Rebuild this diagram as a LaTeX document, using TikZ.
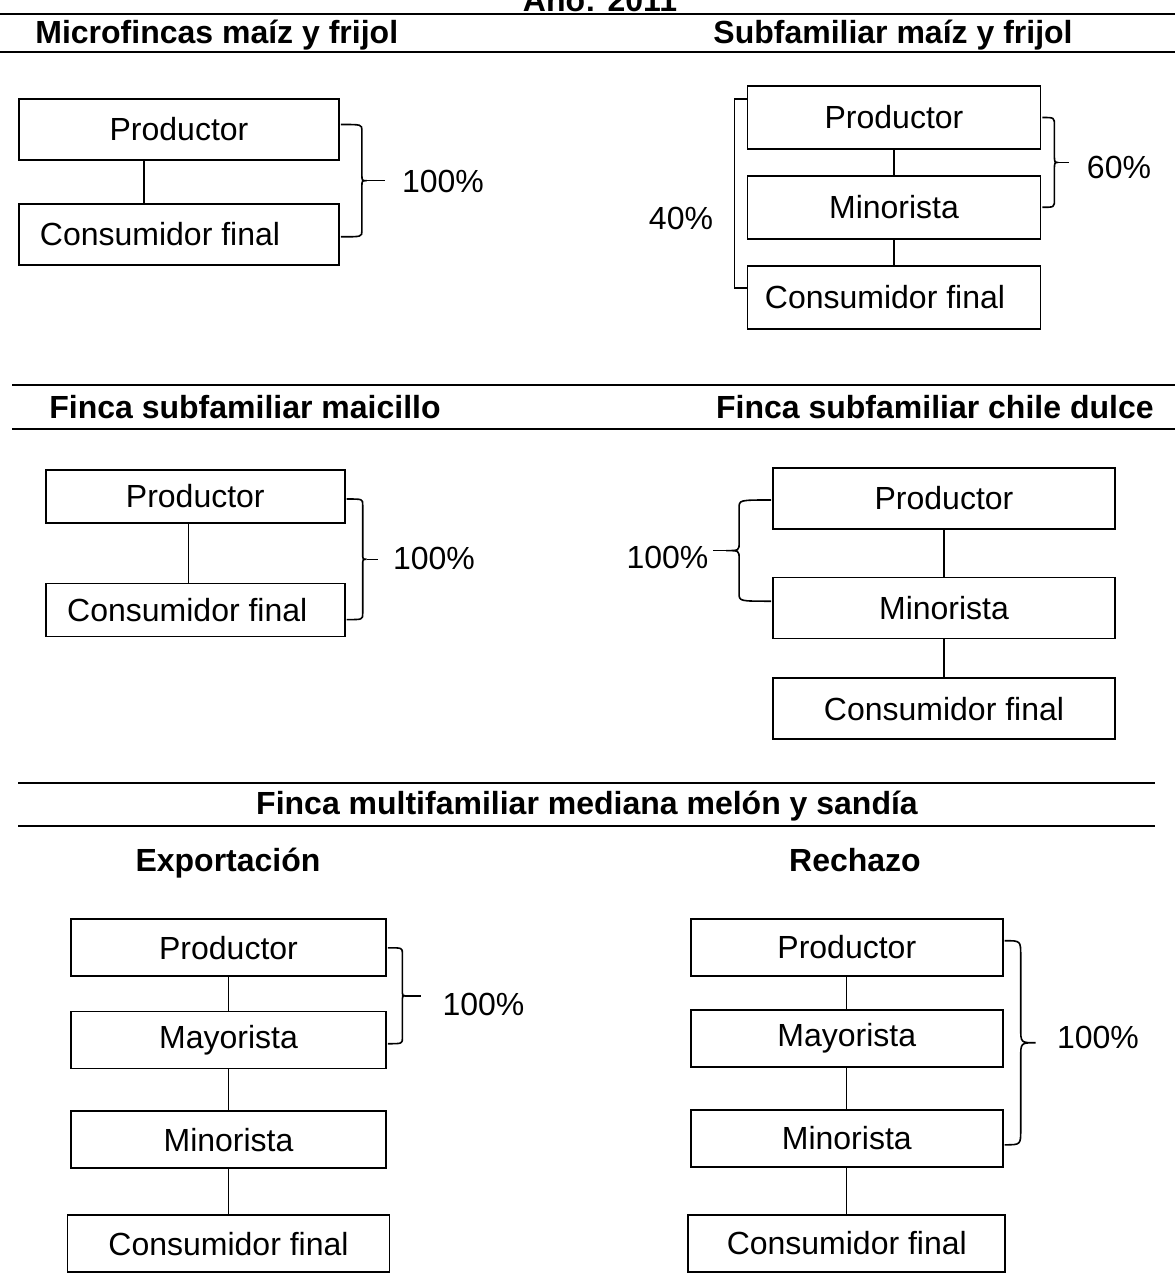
\documentclass[tikz,border=0pt]{standalone}
\usepackage{fontspec}
\setmainfont{Liberation Sans}
\usetikzlibrary{positioning,calc}
\tikzset{%
	box/.style={draw, line width=0.9pt, inner sep=0pt, font=\fontsize{16pt}{19pt}\selectfont},
	link/.style={draw, line width=0.6pt},
	brc/.style={draw, line width=0.8pt},
	rule/.style={draw, line width=1.1pt},
	head/.style={inner sep=0pt, font=\fontsize{16pt}{19pt}\selectfont\bfseries},
	pct/.style={inner sep=0pt, font=\fontsize{16pt}{19pt}\selectfont}
}
% curly brace: top, bottom, body offset, tip offset, bend, name of tip
\newcommand{\curly}[6]{%
	\draw[brc] let \p1=(#1), \p2=(#2), \p3=($(#1)!0.5!(#2)$) in
		(\p1) .. controls (\x1+#3,\y1) .. (\x1+#3,\y1-#5)
		-- (\x1+#3,\y3+#5) .. controls (\x1+#3,\y3) .. (\x1+#4,\y3) coordinate (#6)
		.. controls (\x1+#3,\y3) .. (\x1+#3,\y3-#5)
		-- (\x1+#3,\y2+#5) .. controls (\x1+#3,\y2) .. (\p2);
}

\begin{document}
\begin{tikzpicture}[x=0.5pt,y=0.5pt]
	\useasboundingbox (0,0) rectangle (1175,-1273);
	
	% headings
	\node[head, anchor=base] (title) at (600,-12) {Año: 2011};
	\draw[rule] (0,-14) -- (1175,-14);
	\node[head, anchor=base west] (h1) at (35,-44) {Microfincas maíz y frijol};
	\node[head, anchor=base east] (h2) at (1073,-44) {Subfamiliar maíz y frijol};
	\draw[rule] (0,-52) -- (1175,-52);
	
	\draw[rule] (12,-385) -- (1175,-385);
	\node[head, anchor=base west] (h3) at (49,-418) {Finca subfamiliar maicillo};
	\node[head, anchor=base east] (h4) at (1154,-418) {Finca subfamiliar chile dulce};
	\draw[rule] (12,-429) -- (1175,-429);
	
	\draw[rule] (18,-783) -- (1155,-783);
	\node[head, anchor=base] (h5) at (587,-814) {Finca multifamiliar mediana melón y sandía};
	\draw[rule] (18,-826) -- (1155,-826);
	\node[head, anchor=base] (h6) at (228,-871) {Exportación};
	\node[head, anchor=base] (h7) at (855,-871) {Rechazo};
	
	% microfincas
	\node[box, minimum width=160pt, minimum height=30.5pt] (p1prod) at (179,-129.5) {Productor};
	\node[box, minimum width=160pt, minimum height=30.5pt] (p1cons) [below=21pt of p1prod] {Consumidor final\rule{19pt}{0pt}};
	\path[link] ([xshift=-17.5pt]p1prod.south) edge ([xshift=-17.5pt]p1cons.north);
	\curly{[xshift=0.5pt,yshift=2.5pt]p1prod.east}{[xshift=0.5pt,yshift=-1.25pt]p1cons.east}{10.5pt}{13pt}{3pt}{p1tip}
	\node[pct] (p1pct) at (443,-181) {100\%};
	\draw[brc] (p1tip) -- ($(p1tip -| p1pct.west)+(-8.5pt,0)$);
	
	% subfamiliar maiz y frijol
	\node[box, minimum width=146.5pt, minimum height=31.5pt] (p2prod) at (894,-117.5) {Productor};
	\node[box, minimum width=146.5pt, minimum height=31.5pt] (p2min) [below=12.5pt of p2prod] {Minorista};
	\node[box, minimum width=146.5pt, minimum height=31.5pt] (p2cons) [below=12.5pt of p2min] {Consumidor final\rule{9pt}{0pt}};
	\path[link] (p2prod) edge (p2min);
	\path[link] (p2min) edge (p2cons);
	\curly{[xshift=0.5pt]p2prod.east}{[xshift=0.5pt]p2min.east}{6pt}{8pt}{4pt}{p2tip}
	\node[pct] (p2pct) at (1119,-167) {60\%};
	\draw[brc] (p2tip) -- ($(p2tip -| p2pct.west)+(-9pt,0)$);
	\draw[brc] ([yshift=-7pt]p2prod.north west) -- ++(-6pt,0) |- ([yshift=-11.5pt]p2cons.north west);
	\node[pct] (p2left) at (681,-218) {40\%};
	
	% maicillo
	\node[box, minimum width=149.5pt, minimum height=26.5pt] (p3prod) at (195.3,-496.5) {Productor};
	\node[box, minimum width=149.5pt, minimum height=26.5pt] (p3cons) [below=29.3pt of p3prod] {Consumidor final\rule{8pt}{0pt}};
	\path[link] ([xshift=-3.5pt]p3prod.south) edge ([xshift=-3.5pt]p3cons.north);
	\curly{[xshift=0.5pt,yshift=-1.25pt]p3prod.east}{[xshift=0.5pt,yshift=-4.85pt]p3cons.east}{8pt}{10pt}{3pt}{p3tip}
	\node[pct] (p3pct) at (434,-558) {100\%};
	\draw[brc] (p3tip) -- ($(p3tip -| p3pct.west)+(-7.5pt,0)$);
	
	% chile dulce
	\node[box, minimum width=171pt, minimum height=30.5pt] (p4prod) at (944,-498.5) {Productor};
	\node[box, minimum width=171pt, minimum height=30.5pt] (p4min) [below=23.3pt of p4prod] {Minorista};
	\node[box, minimum width=171pt, minimum height=30.5pt] (p4cons) [below=19pt of p4min] {Consumidor final};
	\path[link] (p4prod) edge (p4min);
	\path[link] (p4min) edge (p4cons);
	\curly{[xshift=-0.5pt,yshift=-0.75pt]p4prod.west}{[xshift=-0.5pt,yshift=3.35pt]p4min.west}{-16pt}{-22.5pt}{4pt}{p4tip}
	\node[pct] (p4pct) at (667.5,-557.5) {100\%};
	\draw[brc] (p4tip) -- ($(p4tip -| p4pct.east)+(2pt,0)$);
	
	% exportacion
	\node[box, minimum width=157.5pt, minimum height=28.5pt] (p5prod) at (228.5,-947.8) {Productor};
	\node[box, minimum width=157.5pt, minimum height=28.5pt] (p5may) [below=16.7pt of p5prod] {Mayorista};
	\node[box, minimum width=157.5pt, minimum height=28.5pt] (p5min) [below=20.5pt of p5may] {Minorista};
	\node[box, minimum width=161pt, minimum height=28.5pt] (p5cons) [below=22.5pt of p5min] {Consumidor final};
	\path[link] (p5prod) edge (p5may);
	\path[link] (p5may) edge (p5min);
	\path[link] (p5min) edge (p5cons);
	\curly{[xshift=0.5pt]p5prod.east}{[xshift=0.5pt,yshift=-1.85pt]p5may.east}{7.25pt}{8.5pt}{3pt}{p5tip}
	\node[pct] (p5pct) at (483.5,-1004.5) {100\%};
	\draw[brc] (p5tip) -- ($(p5tip -| p5pct.west)+(-10.5pt,0)$);
	
	% rechazo
	\node[box, minimum width=156pt, minimum height=28.5pt] (p6prod) at (846.8,-947.5) {Productor};
	\node[box, minimum width=156pt, minimum height=28.5pt] (p6may) [below=16pt of p6prod] {Mayorista};
	\node[box, minimum width=156pt, minimum height=28.5pt] (p6min) [below=20.5pt of p6may] {Minorista};
	\node[box, minimum width=158.5pt, minimum height=28.5pt] (p6cons) [below=23.3pt of p6min] {Consumidor final};
	\path[link] (p6prod) edge (p6may);
	\path[link] (p6may) edge (p6min);
	\path[link] (p6min) edge (p6cons);
	\curly{[xshift=0.5pt,yshift=3.4pt]p6prod.east}{[xshift=0.5pt,yshift=-3.35pt]p6min.east}{8pt}{15.5pt}{7.5pt}{p6tip}
	\node[pct] (p6pct) at (1098,-1037) {100\%};
\end{tikzpicture}
\end{document}
